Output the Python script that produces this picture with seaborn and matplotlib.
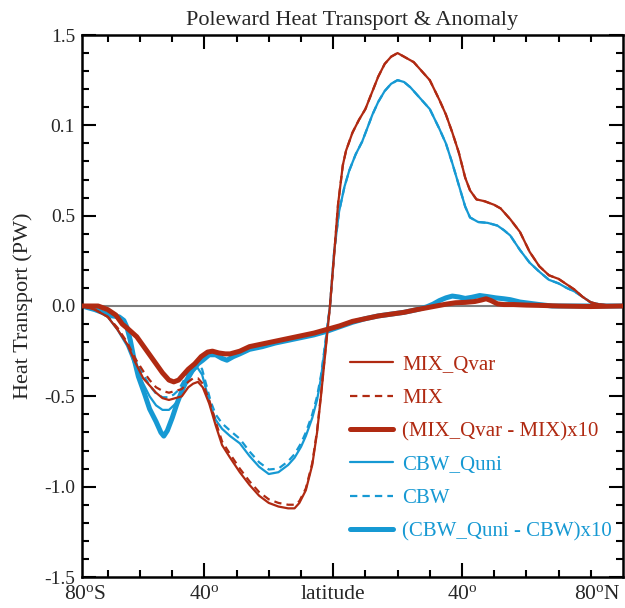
import matplotlib
matplotlib.use("Agg")
import matplotlib.pyplot as plt
import seaborn as sns
from matplotlib.ticker import FixedLocator

# ---------------- data ----------------
lat_qvar = [-78, -74, -70, -67, -64, -61.5, -59, -57, -55, -53, -51, -49, -47, -45, -43.5, -42,
            -40.5, -38.5, -36.5, -34.5, -32, -29, -26, -23, -20, -17, -14, -12, -10.5, -8.5,
            -6.5, -5, -3.8, -2.5, -1, 0.5, 1.5, 3, 4, 6, 8, 10, 12, 14, 16, 18, 20, 22, 25,
            28, 30, 33, 35, 37, 39, 41, 42.5, 44.5, 47, 50, 52, 55, 58, 61, 64, 67, 70, 72.5,
            75, 77.5, 80, 83, 86, 90]
mix_qvar = [0.0, -0.02, -0.06, -0.13, -0.21, -0.31, -0.40, -0.44, -0.48, -0.51, -0.52, -0.51,
            -0.50, -0.45, -0.43, -0.42, -0.45, -0.54, -0.66, -0.77, -0.84, -0.92, -0.99, -1.05,
            -1.09, -1.11, -1.12, -1.12, -1.09, -1.02, -0.88, -0.70, -0.50, -0.27, 0.0, 0.33,
            0.56, 0.78, 0.86, 0.96, 1.03, 1.09, 1.18, 1.27, 1.34, 1.38, 1.40, 1.38, 1.35, 1.29,
            1.25, 1.14, 1.06, 0.96, 0.85, 0.71, 0.64, 0.59, 0.58, 0.56, 0.54, 0.48, 0.41, 0.30,
            0.22, 0.17, 0.15, 0.12, 0.09, 0.05, 0.02, 0.008, 0.003, 0.0]
mix = [0.0, -0.02, -0.06, -0.12, -0.20, -0.29, -0.36, -0.41, -0.45, -0.47, -0.48, -0.47,
       -0.46, -0.42, -0.40, -0.40, -0.43, -0.52, -0.64, -0.75, -0.82, -0.90, -0.97, -1.03,
       -1.07, -1.09, -1.10, -1.10, -1.08, -1.01, -0.87, -0.69, -0.49, -0.26, 0.0, 0.33,
       0.56, 0.78, 0.86, 0.96, 1.03, 1.09, 1.18, 1.27, 1.34, 1.38, 1.40, 1.38, 1.35, 1.29,
       1.25, 1.14, 1.06, 0.96, 0.85, 0.71, 0.64, 0.59, 0.58, 0.56, 0.54, 0.48, 0.41, 0.30,
       0.22, 0.17, 0.15, 0.12, 0.09, 0.05, 0.02, 0.008, 0.003, 0.0]

lat_mix_anom = [-78, -73, -70, -67.5, -65.5, -63.5, -61, -59, -57, -55, -53, -51, -49.5, -48,
                -46.5, -45, -43, -41, -39, -37.5, -35.5, -33.5, -32, -29, -26, -22, -18, -14,
                -10, -6, -2, 2, 6, 10, 14, 18, 22, 26, 29, 32, 35, 38, 41, 44, 46, 47.5, 49,
                51, 53, 56, 60, 65, 70, 80, 90]
mix_anom = [0.0, 0.0, -0.02, -0.05, -0.10, -0.13, -0.17, -0.22, -0.27, -0.32, -0.37, -0.41,
            -0.42, -0.41, -0.38, -0.35, -0.32, -0.28, -0.255, -0.25, -0.26, -0.265, -0.265,
            -0.25, -0.225, -0.21, -0.195, -0.18, -0.165, -0.15, -0.13, -0.11, -0.085, -0.07,
            -0.055, -0.045, -0.035, -0.02, -0.01, 0.0, 0.01, 0.018, 0.02, 0.025, 0.033, 0.04,
            0.03, 0.012, 0.008, 0.008, 0.005, 0.003, 0.0, -0.003, 0.0]

lat_quni = [-78, -74, -70, -67, -64, -61.5, -59, -57, -55, -53, -51, -49.5, -48, -46.5, -45,
            -43.5, -42.2, -40.7, -39.5, -38, -36.5, -34.5, -32, -29, -26, -23, -20, -17, -14,
            -12, -10, -8.5, -6.5, -5, -3.8, -2.5, -1, 0.3, 1.8, 3.5, 5, 7, 9, 10.5, 12.2, 14,
            16, 18, 20, 22, 24, 27, 30, 33, 35, 37, 39, 41, 42.5, 45, 48, 51, 53, 55, 58, 61,
            64, 67, 70, 72.5, 75, 77.5, 80, 83, 86, 90]
cbw_quni = [0.0, -0.02, -0.06, -0.13, -0.22, -0.33, -0.43, -0.50, -0.55, -0.575, -0.575,
            -0.55, -0.52, -0.46, -0.41, -0.36, -0.34, -0.38, -0.46, -0.56, -0.63, -0.68, -0.72,
            -0.76, -0.83, -0.89, -0.93, -0.92, -0.88, -0.84, -0.78, -0.72, -0.62, -0.52, -0.40,
            -0.22, 0.0, 0.30, 0.52, 0.66, 0.75, 0.84, 0.91, 0.98, 1.06, 1.13, 1.19, 1.23, 1.25,
            1.24, 1.21, 1.15, 1.09, 0.98, 0.90, 0.79, 0.67, 0.55, 0.49, 0.465, 0.46, 0.445,
            0.42, 0.39, 0.31, 0.24, 0.19, 0.145, 0.125, 0.10, 0.08, 0.05, 0.02, 0.008, 0.002,
            0.0]
cbw = [0.0, -0.02, -0.055, -0.125, -0.21, -0.30, -0.38, -0.44, -0.485, -0.505, -0.505, -0.49,
       -0.465, -0.415, -0.37, -0.325, -0.31, -0.35, -0.43, -0.53, -0.60, -0.65, -0.69, -0.735,
       -0.805, -0.865, -0.905, -0.90, -0.86, -0.82, -0.76, -0.70, -0.60, -0.50, -0.385, -0.21,
       0.0, 0.30, 0.52, 0.66, 0.75, 0.84, 0.91, 0.98, 1.06, 1.13, 1.19, 1.23, 1.25, 1.24,
       1.21, 1.15, 1.09, 0.98, 0.90, 0.79, 0.67, 0.55, 0.49, 0.465, 0.46, 0.445, 0.42, 0.39,
       0.31, 0.24, 0.19, 0.145, 0.125, 0.10, 0.08, 0.05, 0.02, 0.008, 0.002, 0.0]

lat_cbw_anom = [-78, -74, -71, -68.5, -66.5, -65, -64, -63, -62, -60.5, -58.5, -57, -55, -53.5,
                -52.6, -51.5, -50, -48.5, -47, -45.5, -43.8, -42, -40.5, -38.5, -36.5, -34.5,
                -33, -31, -29, -26, -22, -18, -14, -10, -6, -2, 2, 6, 10, 14, 18, 22, 26, 29,
                31, 33, 35, 37, 39, 41, 43, 45.5, 48, 50.5, 53, 55, 58, 61, 64, 68, 80, 90]
cbw_anom = [0.0, -0.02, -0.04, -0.055, -0.06, -0.08, -0.12, -0.19, -0.28, -0.39, -0.49, -0.57,
            -0.64, -0.70, -0.72, -0.69, -0.62, -0.54, -0.47, -0.41, -0.36, -0.32, -0.30, -0.27,
            -0.27, -0.29, -0.30, -0.28, -0.265, -0.24, -0.225, -0.205, -0.19, -0.175, -0.16,
            -0.14, -0.115, -0.09, -0.07, -0.055, -0.045, -0.035, -0.02, -0.005, 0.01, 0.03,
            0.045, 0.055, 0.05, 0.042, 0.048, 0.058, 0.052, 0.045, 0.04, 0.035, 0.022, 0.015,
            0.008, 0.0, 0.0, 0.0]

series_labels = ["MIX_Qvar", "MIX", "(MIX_Qvar - MIX)x10",
                 "CBW_Quni", "CBW", "(CBW_Quni - CBW)x10"]
x_tick_pos = [-77, -40, 0, 40, 82]
x_tick_labels = ["80$^{\\rm o}$S", "40$^{\\rm o}$", "latitude", "40$^{\\rm o}$", "80$^{\\rm o}$N"]
y_tick_pos = [-1.5, -1.0, -0.5, 0.0, 0.5, 1.0, 1.5]
y_tick_labels = ["-1.5", "-1.0", "-0.5", "0.0", "0.5", "0.1", "1.5"]

# ---------------- style ----------------
sns.set_theme(style="ticks")
plt.rcParams["font.family"] = ["Liberation Serif", "DejaVu Serif"]
plt.rcParams["mathtext.fontset"] = "custom"
plt.rcParams["mathtext.rm"] = "Liberation Serif"
plt.rcParams["mathtext.it"] = "Liberation Serif:italic"

RED = "#B02A12"
BLUE = "#1699D3"
THIN = 1.6
THICK = 3.6
DASH = (0, (3.3, 2.3))

fig = plt.figure(figsize=(6.25, 6.08), dpi=100)
ax = fig.add_axes([82 / 625, 1 - 577 / 608, 541 / 625, 542 / 608])

ax.axhline(0, color="#7f7f7f", lw=1.5, zorder=1)

sns.lineplot(x=lat_quni, y=cbw_quni, ax=ax, color=BLUE, lw=THIN, label=series_labels[3],
             estimator=None, sort=False, zorder=2)
sns.lineplot(x=lat_quni, y=cbw, ax=ax, color=BLUE, lw=THIN, linestyle=DASH,
             label=series_labels[4], estimator=None, sort=False, zorder=2)
sns.lineplot(x=lat_cbw_anom, y=cbw_anom, ax=ax, color=BLUE, lw=THICK, label=series_labels[5],
             estimator=None, sort=False, zorder=2)
sns.lineplot(x=lat_qvar, y=mix_qvar, ax=ax, color=RED, lw=THIN, label=series_labels[0],
             estimator=None, sort=False, zorder=3)
sns.lineplot(x=lat_qvar, y=mix, ax=ax, color=RED, lw=THIN, linestyle=DASH,
             label=series_labels[1], estimator=None, sort=False, zorder=3)
sns.lineplot(x=lat_mix_anom, y=mix_anom, ax=ax, color=RED, lw=THICK, label=series_labels[2],
             estimator=None, sort=False, zorder=3)

ax.set_xlim(-78, 90)
ax.set_ylim(-1.5, 1.5)

ax.set_xticks(x_tick_pos)
ax.set_xticklabels(x_tick_labels, fontsize=15.5)
ax.xaxis.set_minor_locator(FixedLocator([-70, -60, -50, -30, -20, -10, 10, 20, 30, 50, 60, 70, 80]))
ax.set_yticks(y_tick_pos)
ax.set_yticklabels(y_tick_labels, fontsize=14)
ax.yaxis.set_minor_locator(FixedLocator([v / 10 for v in range(-15, 16) if v % 5 != 0]))

ax.tick_params(which="both", direction="in", top=True, right=True, width=1.5, color="black")
ax.tick_params(which="major", length=10)
ax.tick_params(which="minor", length=5)
ax.tick_params(axis="x", which="major", pad=6)
ax.tick_params(axis="y", which="major", pad=5)
for i in (0, 4):
    t = ax.xaxis.get_major_ticks()[i]
    t.tick1line.set_markersize(0)
    t.tick2line.set_markersize(0)

for s in ax.spines.values():
    s.set_linewidth(1.8)
    s.set_color("black")

ax.set_title("Poleward Heat Transport & Anomaly", fontsize=16, pad=7)
ax.set_ylabel("Heat Transport (PW)", fontsize=16, labelpad=8)
ax.set_xlabel("")

handles, labels = ax.get_legend_handles_labels()
order = [labels.index(l) for l in series_labels]
leg = ax.legend([handles[i] for i in order], [labels[i] for i in order],
                loc="lower left", bbox_to_anchor=(0.495, 0.066), frameon=False,
                fontsize=15, handlelength=2.05, handletextpad=0.45, labelspacing=0.66,
                borderpad=0, borderaxespad=0)
for txt, ln in zip(leg.get_texts(), leg.get_lines()):
    txt.set_color(ln.get_color())

fig.savefig("out.png", dpi=100)
